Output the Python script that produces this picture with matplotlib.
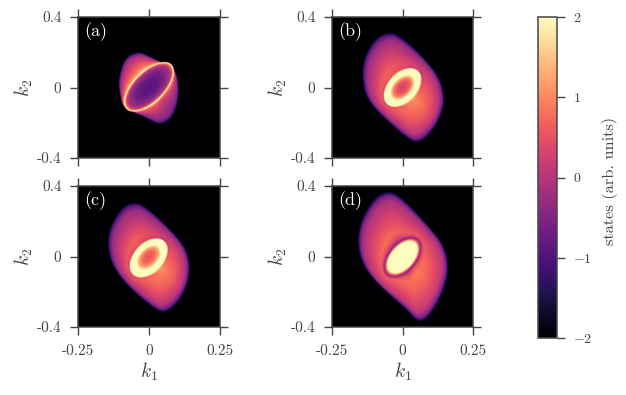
import numpy as np
import matplotlib
matplotlib.use("Agg")
import matplotlib.pyplot as plt

plt.rcParams['font.family'] = ['cmr10', 'DejaVu Serif']
plt.rcParams['mathtext.fontset'] = 'cm'
plt.rcParams['axes.formatter.use_mathtext'] = True
plt.rcParams['axes.unicode_minus'] = False

W, H = 626, 395
INK = '#454545'

# Outer edge of the populated region, per panel (k1, k2)
edge_a = [(-.038,.207),(-.088,.172),(-.110,.042),(-.104,-.038),(-.092,-.114),(-.044,-.147),(.004,-.188),
          (.045,-.218),(.090,-.165),(.110,-.034),(.096,.104),(.039,.146),(-.008,.188)]
edge_b = [(-.051,.318),(-.096,.288),(-.138,.178),(-.147,.060),(-.128,-.072),(-.056,-.189),(.014,-.289),
          (.055,-.324),(.106,-.258),(.143,-.150),(.152,-.053),(.135,.051),(.085,.155),(.026,.249),(-.021,.306)]
edge_c = [(-.051,.312),(-.096,.288),(-.140,.172),(-.150,.064),(-.128,-.068),(-.056,-.200),(.014,-.295),
          (.055,-.330),(.106,-.264),(.140,-.156),(.148,-.049),(.129,.055),(.079,.149),(.020,.244),(-.027,.301)]
edge_d = [(-.056,.378),(-.102,.338),(-.150,.210),(-.164,.074),(-.139,-.068),(-.062,-.200),(.014,-.304),
          (.061,-.388),(.106,-.332),(.154,-.176),(.168,-.049),(.146,.074),(.096,.168),(.038,.272),(-.015,.354)]

# Ring ellipse per panel, in axes-scaled units: centre x, centre y, semi-major, semi-minor, tilt degrees
ring_a = (0.0, 0.01, .448, .217, 45)
ring_b = (0.0, 0.0, .320, .200, 47)
ring_c = (-.005, -.02, .322, .203, 47)
ring_d = (0.0, -.01, .325, .190, 49)

# Values inside the ring, centre -> ring
inner_knots = [0, .3, .5, .65, .8, .9, 1.0]
inner_a = [-.9, -.85, -.7, -.5, -.2, .3, 2.3]
inner_b = [.3, .5, 1.0, 1.9, 2.3, 2.3, 1.9]
inner_c = [.5, .7, 1.2, 2.0, 2.4, 2.4, 1.9]
inner_d = [2.6, 2.6, 2.6, 2.6, 2.2, .9, -.4]

# Values between ring and edge along four directions: UR, UL, LL, LR
outer_knots = [0, .03, .08, .2, .5, .8, .92, 1.0]
directions_deg = [45, 135, 225, 315]
outer_a = [[2.3, 2.0, 1.6, 1.0, .4, -.3, -1.0, -2],
           [2.3, 1.8, 1.1, .8, .35, -.1, -.7, -2],
           [2.3, 2.0, 1.6, 1.0, .4, -.3, -1.0, -2],
           [2.3, 1.6, .5, .15, -.2, -.45, -1.0, -2]]
outer_b = [[1.9, .3, .1, .2, 0, -.35, -.95, -2],
           [1.9, .6, .65, .7, .25, -.2, -.8, -2],
           [1.9, .4, .3, .5, .15, -.25, -.95, -2],
           [1.9, 1.3, 1.05, .95, .7, .15, -.55, -2]]
outer_c = [[1.9, .2, .1, .2, 0, -.35, -.95, -2],
           [1.9, .5, .55, .7, .25, -.2, -.8, -2],
           [1.9, .3, .3, .5, .15, -.25, -.95, -2],
           [1.9, 1.2, 1.05, .95, .7, .15, -.55, -2]]
outer_d = [[-.5, -.3, .2, .5, .2, -.15, -.75, -2],
           [-.4, -.1, .5, .8, .4, -.05, -.6, -2],
           [-.5, -.3, .2, .6, .3, -.05, -.75, -2],
           [-.4, 0, .7, .9, .65, .2, -.5, -2]]

panel_names = ['(a)', '(b)', '(c)', '(d)']
k1_ticks = [-.25, 0, .25]
k1_labels = ['-0.25', '0', '0.25']
k2_ticks = [-.4, 0, .4]
k2_labels = ['-0.4', '0', '0.4']
cbar_ticks = [-2, -1, 0, 1, 2]
cbar_labels = [r'$-2$', r'$-1$', '0', '1', '2']


def edge_radius(points, theta):
    p = np.array(points) / np.array([.25, .4])
    for _ in range(4):
        q = np.roll(p, -1, axis=0)
        p = np.column_stack([.75 * p + .25 * q, .25 * p + .75 * q]).reshape(-1, 2)
    return np.interp(theta, np.arctan2(p[:, 1], p[:, 0]), np.hypot(p[:, 0], p[:, 1]), period=2 * np.pi)


def ring_radius(ring, theta):
    cx, cy, a, b, tilt = ring
    t = np.linspace(0, 2 * np.pi, 720, endpoint=False)
    phi = np.radians(tilt)
    px = cx + a * np.cos(t) * np.cos(phi) - b * np.sin(t) * np.sin(phi)
    py = cy + a * np.cos(t) * np.sin(phi) + b * np.sin(t) * np.cos(phi)
    return np.interp(theta, np.arctan2(py, px), np.hypot(px, py), period=2 * np.pi)


def build(edge, ring, inner, outer, n=360):
    x = np.linspace(-.25, .25, n)
    y = np.linspace(-.4, .4, n)
    X, Y = np.meshgrid(x, y)
    u, v = X / .25, Y / .4
    r = np.hypot(u, v)
    th = np.arctan2(v, u)
    ro = edge_radius(edge, th)
    ri = ring_radius(ring, th)
    Z = np.full(X.shape, -2.0)
    s = r / ri
    m = s <= 1
    Z[m] = np.interp(s[m], inner_knots, inner)
    w = (r - ri) / np.maximum(ro - ri, 1e-3)
    rows = np.array(outer, float)
    dirs = np.radians(directions_deg)
    vals = np.stack([np.interp(w, outer_knots, row) for row in rows])
    tw = (th % (2 * np.pi) - dirs[0]) % (2 * np.pi) / (np.pi / 2)
    i0 = np.floor(tw).astype(int) % 4
    i1 = (i0 + 1) % 4
    f = tw - np.floor(tw)
    ii, jj = np.indices(X.shape)
    out = vals[i0, ii, jj] * (1 - f) + vals[i1, ii, jj] * f
    m2 = (~m) & (w <= 1)
    Z[m2] = out[m2]
    return Z


fields = [build(edge_a, ring_a, inner_a, outer_a),
          build(edge_b, ring_b, inner_b, outer_b),
          build(edge_c, ring_c, inner_c, outer_c),
          build(edge_d, ring_d, inner_d, outer_d)]

fig = plt.figure(figsize=(W / 100, H / 100), dpi=100)


def add_ax(l, t, r, b):
    return fig.add_axes([l / W, 1 - b / H, (r - l) / W, (b - t) / H])


boxes = [(78, 17, 220, 158), (332, 17, 473, 158), (78, 186, 220, 327), (332, 186, 473, 327)]
im = None
for i, (Z, box, name) in enumerate(zip(fields, boxes, panel_names)):
    ax = add_ax(*box)
    im = ax.imshow(Z, origin='lower', extent=[-.25, .25, -.4, .4], aspect='auto',
                   cmap='magma', vmin=-2, vmax=2, interpolation='bilinear')
    ax.set_xticks(k1_ticks)
    ax.set_yticks(k2_ticks)
    ax.set_yticklabels(k2_labels)
    ax.tick_params(axis='both', direction='out', length=5.8, width=1.0, color=INK,
                   top=True, right=True, bottom=True, left=True,
                   labelsize=11, labelcolor=INK)
    ax.tick_params(axis='x', pad=6.5)
    ax.tick_params(axis='y', pad=6)
    if i >= 2:
        ax.set_xticklabels(k1_labels)
        ax.set_xlabel(r'$k_1$', fontsize=14, color=INK, labelpad=2)
    else:
        ax.set_xticklabels([])
    ax.set_ylabel(r'$k_2$', fontsize=14, color=INK, labelpad=1.5)
    for sp in ax.spines.values():
        sp.set_color(INK)
        sp.set_linewidth(1.1)
    ax.text(.045, .96, name, transform=ax.transAxes, color='white', fontsize=13, ha='left', va='top')

cax = add_ax(538, 17, 557, 338)
cb = fig.colorbar(im, cax=cax)
cb.set_ticks(cbar_ticks)
cb.set_ticklabels(cbar_labels)
cb.ax.tick_params(direction='out', length=5.8, width=1.0, color=INK, labelsize=10, labelcolor=INK, pad=6)
cb.outline.set_edgecolor(INK)
cb.outline.set_linewidth(1.1)
cb.set_label('states (arb. units)', fontsize=11.8, color=INK, labelpad=6.5, y=.49)

fig.savefig('out.png', dpi=100)
